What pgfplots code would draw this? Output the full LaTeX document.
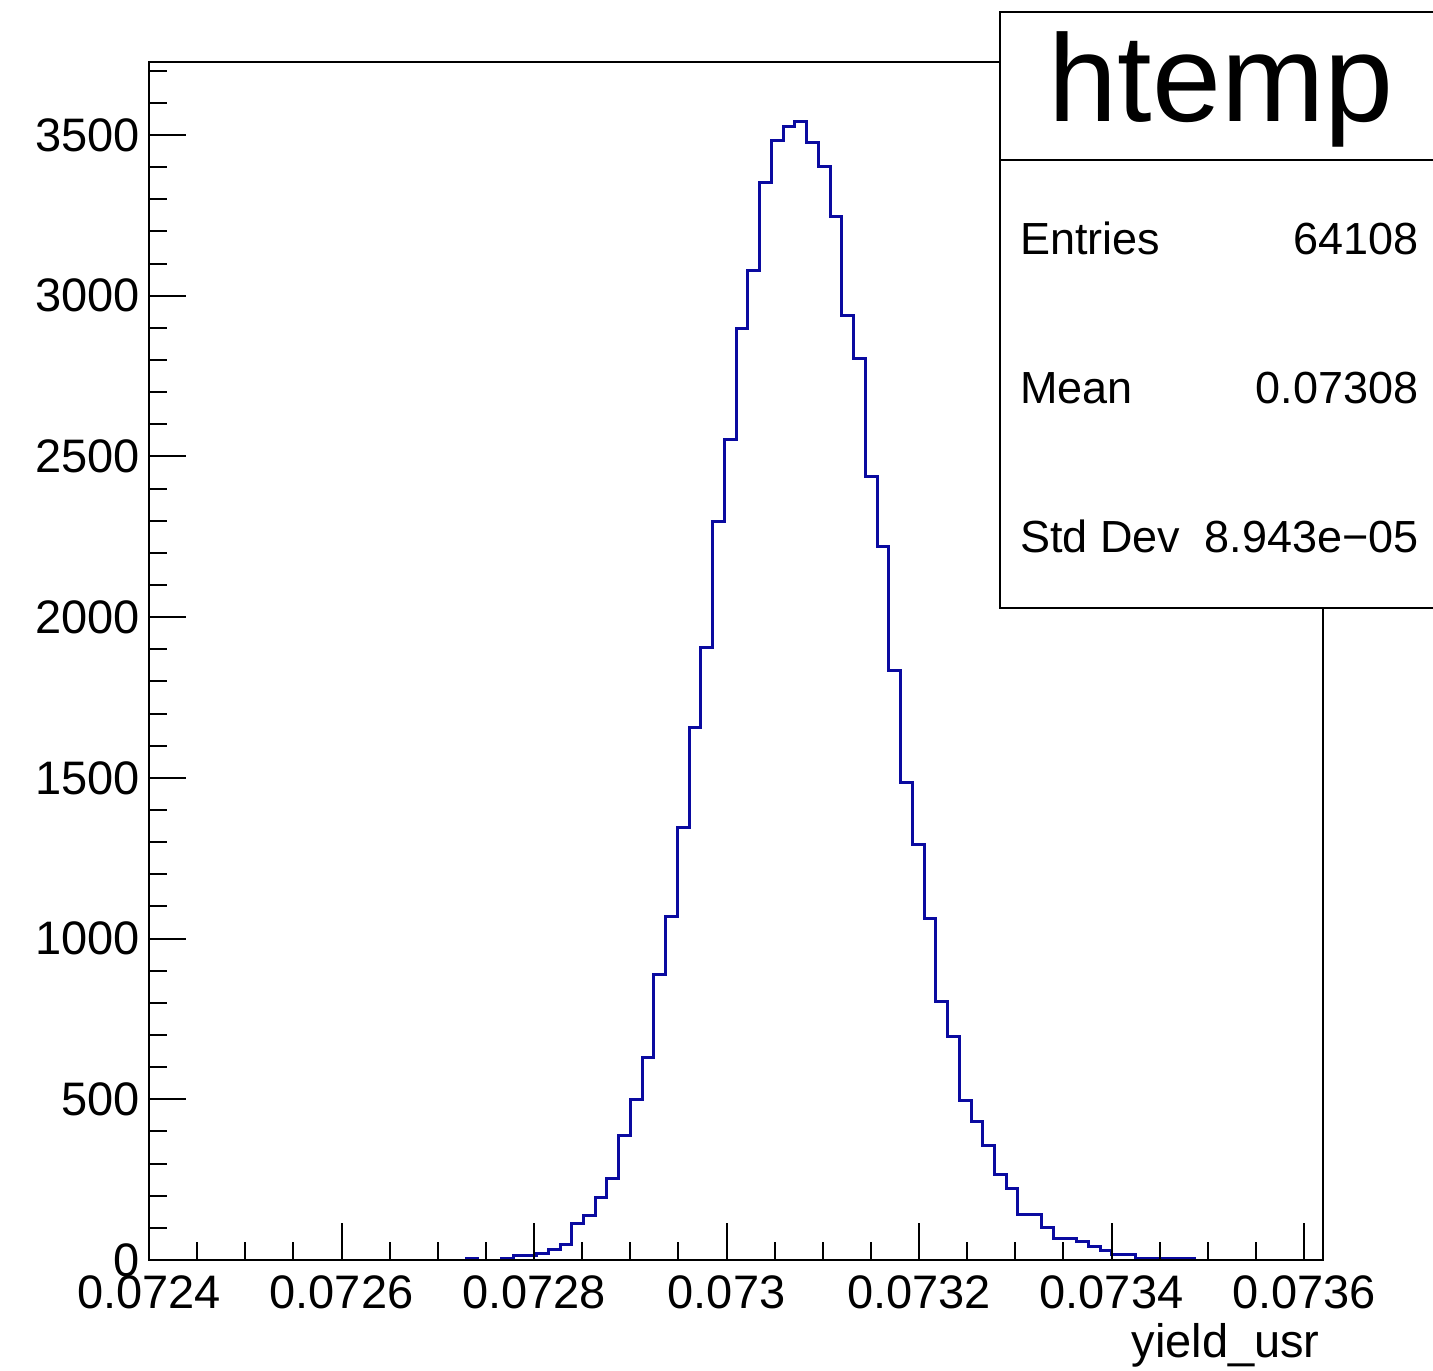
\documentclass[border=0pt]{standalone}
\usepackage{fontspec}
\setmainfont{Liberation Sans}
\usepackage{pgfplots}
\pgfplotsset{compat=1.18}
\definecolor{histblue}{RGB}{10,10,160}

% bin contents, left bin edges (bin width 1.22e-5)
\pgfplotstableread{
x y
0.0727172 0
0.0727294 6
0.0727416 0
0.0727538 0
0.0727660 5
0.0727782 15
0.0727904 15
0.0728026 19
0.0728148 33
0.0728270 47
0.0728392 114
0.0728514 138
0.0728636 195
0.0728758 252
0.0728880 387
0.0729002 498
0.0729124 630
0.0729246 889
0.0729368 1070
0.0729490 1344
0.0729612 1658
0.0729734 1907
0.0729856 2299
0.0729978 2554
0.0730100 2897
0.0730222 3077
0.0730344 3351
0.0730466 3482
0.0730588 3525
0.0730710 3543
0.0730832 3476
0.0730954 3401
0.0731076 3245
0.0731198 2937
0.0731320 2803
0.0731442 2439
0.0731564 2221
0.0731686 1833
0.0731808 1485
0.0731930 1292
0.0732052 1063
0.0732174 805
0.0732296 695
0.0732418 497
0.0732540 430
0.0732662 355
0.0732784 267
0.0732906 223
0.0733028 141
0.0733150 141
0.0733272 100
0.0733394 66
0.0733516 66
0.0733638 57
0.0733760 41
0.0733882 31
0.0734004 16
0.0734126 16
0.0734248 6
0.0734370 5
0.0734492 5
0.0734614 5
0.0734736 4
0.0734858 0
0.0734980 0
}\histdata

\begin{document}
\begin{tikzpicture}[x=1pt,y=1pt]
\useasboundingbox (0,0) rectangle (716.5,685);
\fill[white] (0,0) rectangle (716.5,685);
\begin{axis}[
  at={(74.5pt,55pt)}, anchor=south west,
  scale only axis, width=586.85pt, height=599pt,
  xmin=0.0724, xmax=0.0736194, ymin=0, ymax=3727,
  axis on top,
  axis line style={line width=1.1pt},
  xtick={0.0724,0.0726,0.0728,0.073,0.0732,0.0734,0.0736},
  xticklabels={0.0724,0.0726,0.0728,0.073,0.0732,0.0734,0.0736},
  minor xtick={0.07245,0.0725,0.07255,0.07265,0.0727,0.07275,0.07285,0.0729,0.07295,0.07305,0.0731,0.07315,0.07325,0.0733,0.07335,0.07345,0.0735,0.07355},
  ytick={0,500,1000,1500,2000,2500,3000,3500},
  yticklabels={0,500,1000,1500,2000,2500,3000,3500},
  minor ytick={100,200,...,3700},
  xtick pos=bottom, ytick pos=left, tick align=inside,
  major tick length=18.5pt, minor tick length=9pt,
  tick style={black, line width=1pt},
  tick label style={font=\fontsize{23.5}{23.5}\selectfont, inner sep=0pt},
  xticklabel style={yshift=-7.5pt},
  yticklabel style={xshift=-4.5pt},
  scaled ticks=false,
]
\addplot[const plot, histblue, line width=1.5pt] table[x=x, y=y] {\histdata};
\end{axis}
% x axis title
\node[anchor=base east, inner sep=0pt, font=\fontsize{23.5}{23.5}\selectfont] at (660,6.5) {yield\_usr};
% stats box
\filldraw[fill=white, draw=black, line width=1pt] (500,381) rectangle (721,679);
\draw[line width=1pt] (500,605) -- (721,605);
\node[anchor=base, inner sep=0pt, font=\fontsize{62}{62}\selectfont] at (610.5,624) {htemp};
\begin{scope}[every node/.style={inner sep=0pt, font=\fontsize{22.5}{22.5}\selectfont}]
\node[anchor=base west] at (510,557.5) {Entries};
\node[anchor=base east] at (709.5,557.5) {64108};
\node[anchor=base west] at (510,483) {Mean};
\node[anchor=base east] at (709.5,483) {0.07308};
\node[anchor=base west] at (510,408.5) {Std Dev};
\node[anchor=base east] at (709.5,408.5) {8.943e\textminus 05};
\end{scope}
\end{tikzpicture}
\end{document}
